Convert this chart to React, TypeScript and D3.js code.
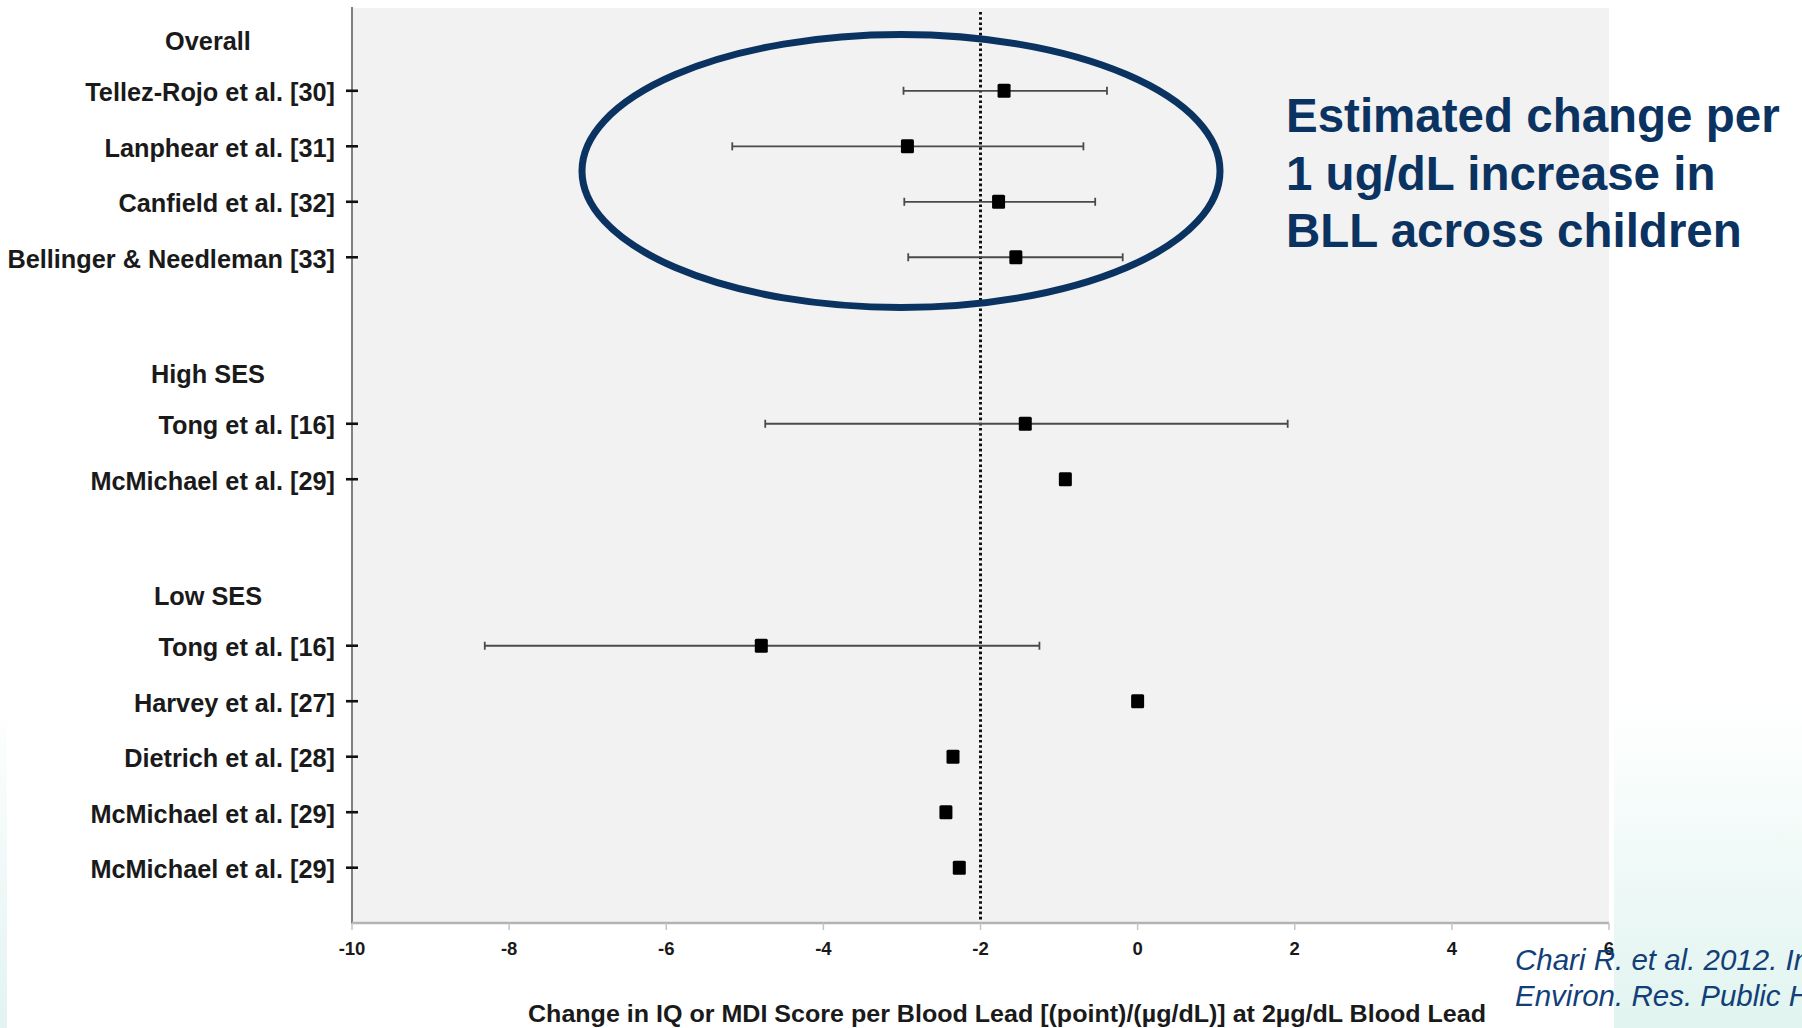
import React from "react";
import * as d3 from "d3";

// Forest plot: change in IQ/MDI score per µg/dL blood lead, grouped by study population
const groups = ["Overall", "High SES", "Low SES"];
const studies = [
  "Tellez-Rojo et al. [30]",
  "Lanphear et al. [31]",
  "Canfield et al. [32]",
  "Bellinger & Needleman [33]",
  "Tong et al. [16]",
  "McMichael et al. [29]",
  "Tong et al. [16]",
  "Harvey et al. [27]",
  "Dietrich et al. [28]",
  "McMichael et al. [29]",
  "McMichael et al. [29]",
];
const studyGroup = [0, 0, 0, 0, 1, 1, 2, 2, 2, 2, 2];
const estimates = [-1.7, -2.93, -1.77, -1.55, -1.43, -0.92, -4.79, 0.0, -2.35, -2.44, -2.27];
const lower: (number | null)[] = [-2.98, -5.16, -2.97, -2.92, -4.74, null, -8.31, null, null, null, null];
const upper: (number | null)[] = [-0.39, -0.69, -0.54, -0.19, 1.91, null, -1.25, null, null, null, null];
const xTicks = [-10, -8, -6, -4, -2, 0, 2, 4, 6];
const referenceValue = -2;

const axisTitle = "Change in IQ or MDI Score per Blood Lead [(point)/(µg/dL)] at 2µg/dL Blood Lead";
const calloutLines = ["Estimated change per", "1 ug/dL increase in", "BLL across children"];
const citationLines = ["Chari R. et al. 2012. Int. J.", "Environ. Res. Public Health"];

type Row = { kind: "header" | "study" | "blank"; label: string; index: number };

// Lay out rows: group header, its studies, then a spacer row before the next group
const rows: Row[] = [];
groups.forEach((g, gi) => {
  if (gi > 0) rows.push({ kind: "blank", label: "", index: -1 });
  rows.push({ kind: "header", label: g, index: gi });
  studies.forEach((s, i) => {
    if (studyGroup[i] === gi) rows.push({ kind: "study", label: s, index: i });
  });
});

const W = 1802;
const H = 1028;
const NAVY = "#0b3362";
const CITE = "#123f78";
const FONT = "'Liberation Sans', Arial, Helvetica, sans-serif";

export default function App() {
  const plotLeft = 352;
  const plotRight = 1609;
  const plotTop = 8;
  const plotBottom = 923;

  const x = d3.scaleLinear().domain([-10, 6]).range([plotLeft, plotRight]);
  const y = d3
    .scalePoint<number>()
    .domain(rows.map((_, i) => i))
    .range([35.3, 867.7]);

  const studyRows = rows
    .map((r, i) => ({ ...r, slot: i }))
    .filter((r) => r.kind === "study");
  const headerRows = rows
    .map((r, i) => ({ ...r, slot: i }))
    .filter((r) => r.kind === "header");

  const capH = 8;

  return (
    <svg
      width={W}
      height={H}
      viewBox={`0 0 ${W} ${H}`}
      style={{ position: "absolute", left: 0, top: 0, display: "block" }}
      fontFamily={FONT}
    >
      <defs>
        <linearGradient id="slideFade" x1="0" y1="0" x2="0" y2="1">
          <stop offset="0" stopColor="#ffffff" />
          <stop offset="1" stopColor="#e1f4f0" />
        </linearGradient>
        <clipPath id="figClip">
          <rect x={7} y={0} width={1607} height={H} />
        </clipPath>
      </defs>

      {/* slide background */}
      <rect x={0} y={0} width={W} height={H} fill="#ffffff" />
      <rect x={0} y={700} width={W} height={H - 700} fill="url(#slideFade)" />

      {/* figure panel */}
      <g clipPath="url(#figClip)">
        <rect x={7} y={0} width={1607} height={H} fill="#ffffff" />
        <rect
          x={plotLeft}
          y={plotTop}
          width={plotRight - plotLeft}
          height={plotBottom - plotTop}
          fill="#f2f2f2"
        />

        {/* reference line */}
        <line
          x1={x(referenceValue)}
          x2={x(referenceValue)}
          y1={plotTop + 4}
          y2={plotBottom}
          stroke="#111"
          strokeWidth={3}
          strokeDasharray="2.6 2.6"
        />

        {/* confidence intervals */}
        {studyRows.map((r) => {
          const lo = lower[r.index];
          const hi = upper[r.index];
          if (lo == null || hi == null) return null;
          const yy = y(r.slot)!;
          return (
            <g key={`ci-${r.slot}`} stroke="#4a4a4a" strokeWidth={1.8}>
              <line x1={x(lo)} x2={x(hi)} y1={yy} y2={yy} />
              <line x1={x(lo)} x2={x(lo)} y1={yy - capH / 2} y2={yy + capH / 2} />
              <line x1={x(hi)} x2={x(hi)} y1={yy - capH / 2} y2={yy + capH / 2} />
            </g>
          );
        })}

        {/* point estimates */}
        {studyRows.map((r) => (
          <rect
            key={`pt-${r.slot}`}
            x={x(estimates[r.index]) - 6.5}
            y={y(r.slot)! - 7}
            width={13}
            height={14}
            rx={1.5}
            fill="#000"
          />
        ))}

        {/* axes */}
        <line x1={plotLeft} x2={plotLeft} y1={plotTop - 1} y2={plotBottom + 1} stroke="#808080" strokeWidth={2} />
        <line x1={plotLeft} x2={plotRight} y1={plotBottom} y2={plotBottom} stroke="#b3b3b3" strokeWidth={2.5} />
        {xTicks.map((t) => (
          <g key={`xt-${t}`}>
            <line x1={x(t)} x2={x(t)} y1={plotBottom} y2={plotBottom + 7} stroke="#c4c4c4" strokeWidth={1.5} />
            <text
              x={x(t)}
              y={955}
              textAnchor="middle"
              fontSize={18.5}
              fontWeight="bold"
              fill="#1a1a1a"
            >
              {t < 0 ? `-${Math.abs(t)}` : `${t}`}
            </text>
          </g>
        ))}

        {/* study labels with ticks */}
        {studyRows.map((r) => {
          const yy = y(r.slot)!;
          return (
            <g key={`lab-${r.slot}`}>
              <line x1={plotLeft - 6} x2={plotLeft + 6} y1={yy} y2={yy} stroke="#111" strokeWidth={2.6} />
              <text
                x={335}
                y={yy + 10.5}
                textAnchor="end"
                fontSize={25.3}
                fontWeight="bold"
                fill="#1a1a1a"
              >
                {r.label}
              </text>
            </g>
          );
        })}

        {/* group headers */}
        {headerRows.map((r) => (
          <text
            key={`hd-${r.slot}`}
            x={208}
            y={y(r.slot)! + 15}
            textAnchor="middle"
            fontSize={25.3}
            fontWeight="bold"
            fill="#1a1a1a"
          >
            {r.label}
          </text>
        ))}

        {/* axis title */}
        <text
          x={1007}
          y={1022}
          textAnchor="middle"
          fontSize={23.5}
          fontWeight="bold"
          fill="#1a1a1a"
          textLength={958}
          lengthAdjust="spacingAndGlyphs"
        >
          {axisTitle}
        </text>
      </g>

      {/* highlight around the overall estimates */}
      <ellipse cx={901} cy={171} rx={319} ry={136.5} fill="none" stroke={NAVY} strokeWidth={7} />

      {/* callout text */}
      {calloutLines.map((line, i) => (
        <text
          key={`co-${i}`}
          x={1286}
          y={132 + i * 57.5}
          fontSize={47.5}
          fontWeight="bold"
          fill={NAVY}
        >
          {line}
        </text>
      ))}

      {/* citation */}
      {citationLines.map((line, i) => (
        <text
          key={`ct-${i}`}
          x={1515}
          y={970 + i * 35.5}
          fontSize={29.5}
          fontStyle="italic"
          fill={CITE}
        >
          {line}
        </text>
      ))}
    </svg>
  );
}
